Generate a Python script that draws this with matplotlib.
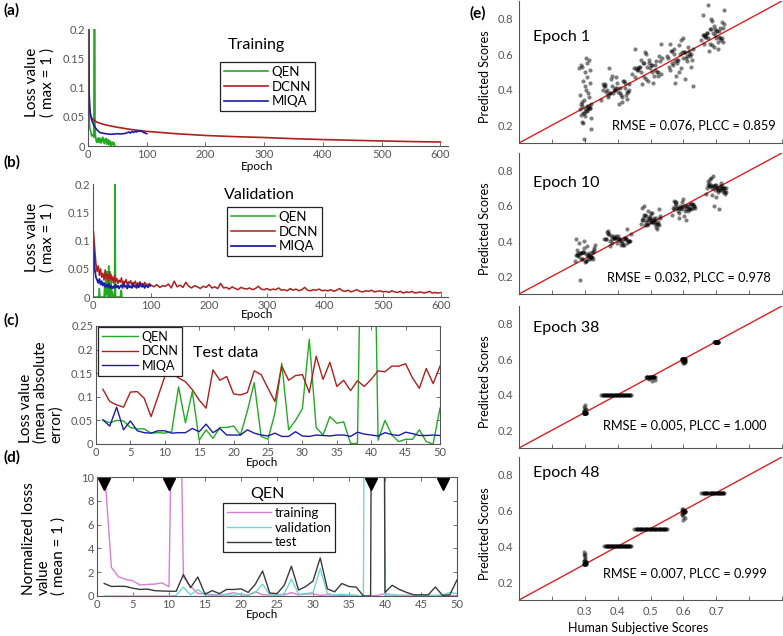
import matplotlib

matplotlib.use("Agg")
import matplotlib.pyplot as plt

plt.rcParams.update({"font.family": ["Lato", "DejaVu Sans"], "font.size": 8})

W, H = 783, 636

# ---------------- (a) training loss ----------------
train_qen = [0.5, 0.046, 0.031, 0.027, 0.024, 0.017, 0.018, 0.019, 0.02, 0.015, 0.5, 0.03, 0.015, 0.008,
             0.006, 0.012, 0.008, 0.014, 0.006, 0.01, 0.013, 0.005, 0.011, 0.008, 0.015, 0.007, 0.012,
             0.004, 0.01, 0.009, 0.013, 0.003, 0.008, 0.011, 0.005, 0.002, 0.009, 0.006, 0.001, 0.003,
             0.007, 0.002, 0.004, 0.006, 0.002, 0.0]
train_dcnn_ep = [1, 2, 3, 4, 5, 7, 10, 15, 20, 30, 40, 50, 75, 100, 150, 200, 250, 300, 350, 400, 450,
                 500, 550, 600]
train_dcnn = [0.115, 0.075, 0.062, 0.055, 0.05, 0.047, 0.044, 0.041, 0.039, 0.036, 0.034, 0.032, 0.028,
              0.025, 0.021, 0.018, 0.016, 0.0145, 0.0125, 0.011, 0.0098, 0.0086, 0.0076, 0.0068]
train_miqa_ep = [1, 2, 3, 4, 5, 6, 8, 10, 12, 15, 18, 20, 25, 30, 35, 40, 45, 50, 55, 60, 65, 70, 72,
                 75, 78, 80, 83, 85, 88, 90, 93, 95, 98, 100]
train_miqa = [0.25, 0.09, 0.065, 0.055, 0.05, 0.045, 0.04, 0.035, 0.032, 0.028, 0.025, 0.023, 0.022,
              0.021, 0.0205, 0.02, 0.0205, 0.021, 0.0205, 0.021, 0.022, 0.024, 0.022, 0.025, 0.023,
              0.025, 0.024, 0.026, 0.025, 0.026, 0.024, 0.023, 0.022, 0.021]

# ---------------- (b) validation loss ----------------
val_qen = [0, 0, 0, 0, 0, 0, 0, 0, 0, 0, 0.015, 0, 0, 0, 0, 0, 0, 0, 0, 0.018, 0, 0.035, 0.005, 0.045,
           0, 0.02, 0.055, 0, 0.03, 0, 0.04, 0, 0.01, 0, 0, 0.005, 0.0, 0.2, 0, 0, 0, 0, 0, 0, 0, 0,
           0, 0.01, 0.012, 0]
val_dcnn_ep = list(range(1, 100, 2)) + list(range(100, 601, 5))
val_dcnn = [0.115, 0.085, 0.06, 0.045, 0.055, 0.038, 0.05, 0.035, 0.042, 0.03, 0.048, 0.032, 0.04, 0.028,
            0.045, 0.03, 0.036, 0.025, 0.038, 0.027, 0.033, 0.024, 0.03, 0.026, 0.034, 0.023, 0.028,
            0.025, 0.031, 0.022, 0.027, 0.024, 0.029, 0.021, 0.026, 0.023, 0.028, 0.02, 0.025, 0.022,
            0.027, 0.021, 0.024, 0.02, 0.026, 0.022, 0.023, 0.019, 0.024, 0.021,
            0.021, 0.018, 0.022, 0.017, 0.02, 0.019, 0.023, 0.016, 0.028, 0.018, 0.021, 0.017, 0.026,
            0.019, 0.016, 0.02, 0.018, 0.015, 0.019, 0.017,
            0.022, 0.016, 0.018, 0.015, 0.024, 0.016, 0.017, 0.014, 0.018, 0.015, 0.013, 0.017, 0.015,
            0.014, 0.016, 0.013, 0.015, 0.019, 0.014, 0.013,
            0.015, 0.012, 0.014, 0.013, 0.016, 0.012, 0.013, 0.011, 0.015, 0.012, 0.014, 0.011, 0.013,
            0.017, 0.012, 0.011, 0.013, 0.012, 0.014, 0.011,
            0.012, 0.011, 0.013, 0.01, 0.012, 0.015, 0.011, 0.01, 0.012, 0.009, 0.011, 0.013, 0.01,
            0.009, 0.011, 0.01, 0.012, 0.009, 0.01, 0.011,
            0.009, 0.01, 0.008, 0.011, 0.009, 0.008, 0.01, 0.007, 0.009, 0.008, 0.01, 0.007, 0.008,
            0.009, 0.007, 0.008, 0.01, 0.007, 0.008, 0.007, 0.008]
val_miqa_ep = list(range(1, 100, 2))
val_miqa = [0.09, 0.05, 0.035, 0.03, 0.025, 0.032, 0.022, 0.028, 0.02, 0.025, 0.018, 0.022, 0.017, 0.024,
            0.016, 0.02, 0.015, 0.019, 0.016, 0.022, 0.017, 0.02, 0.015, 0.019, 0.021, 0.016, 0.024,
            0.018, 0.02, 0.015, 0.022, 0.017, 0.019, 0.016, 0.023, 0.018, 0.02, 0.016, 0.021, 0.017,
            0.024, 0.019, 0.018, 0.022, 0.016, 0.02, 0.019, 0.017, 0.021, 0.02]

# ---------------- (c) test data (MAE) ----------------
test_qen = [0.051, 0.045, 0.05, 0.049, 0.035, 0.032, 0.032, 0.023, 0.024, 0.023, 0.026, 0.121, 0.045,
            0.111, 0.008, 0.03, 0.012, 0.035, 0.035, 0.038, 0.019, 0.07, 0.13, 0.016, 0.01, 0.065, 0.171,
            0.03, 0.05, 0.075, 0.222, 0.035, 0.019, 0.058, 0.044, 0.047, 0.001, 0.001, 0.9, 0.9, 0.008,
            0.05, 0.019, 0.005, 0.01, 0.01, 0.03, 0.005, 0.0, 0.076]
test_dcnn = [0.116, 0.09, 0.083, 0.078, 0.11, 0.111, 0.097, 0.058, 0.1, 0.143, 0.15, 0.14, 0.132, 0.115,
             0.093, 0.076, 0.157, 0.135, 0.143, 0.106, 0.104, 0.109, 0.155, 0.147, 0.118, 0.09, 0.165,
             0.135, 0.145, 0.147, 0.109, 0.186, 0.137, 0.173, 0.122, 0.135, 0.113, 0.134, 0.122, 0.137,
             0.155, 0.153, 0.165, 0.165, 0.17, 0.14, 0.118, 0.16, 0.128, 0.165]
test_miqa = [0.051, 0.038, 0.078, 0.03, 0.049, 0.028, 0.024, 0.023, 0.028, 0.028, 0.023, 0.024, 0.024,
             0.033, 0.026, 0.042, 0.024, 0.033, 0.019, 0.019, 0.019, 0.03, 0.023, 0.019, 0.017, 0.023,
             0.016, 0.016, 0.026, 0.017, 0.016, 0.019, 0.018, 0.017, 0.019, 0.019, 0.016, 0.025, 0.021,
             0.019, 0.017, 0.024, 0.02, 0.018, 0.025, 0.022, 0.018, 0.018, 0.019, 0.018]

# ---------------- (d) QEN normalized losses ----------------
norm_train = [11, 2.4, 1.6, 1.4, 1.26, 0.92, 0.98, 1.0, 1.1, 0.78, 40, 1.6, 0.8, 0.22, 0.15, 0.12, 0.1,
              0.15, 0.28, 0.1, 0.08, 0.36, 0.1, 0.1, 0.08, 0.1, 0.28, 0.1, 0.15, 0.18, 0.05, 0.1, 0.08,
              0.05, 0.06, 0.04, 0.0, 0.0, 0.05, 0.2, 0.1, 0.05, 0.05, 0.06, 0.04, 0.05, 0.04, 0.02, 0.03,
              0.03]
norm_val = [0, 0, 0, 0, 0, 0, 0, 0, 0, 0, 0.05, 0.75, 0.1, 0.55, 0.1, 0.05, 0.05, 0.1, 0.05, 0.2, 0.05,
            0.3, 1.0, 0.1, 0.05, 0.2, 1.4, 0.15, 0.2, 0.3, 2.3, 0.2, 0.1, 0.15, 0.1, 0.05, 0.0, 150, 150,
            0.05, 0.1, 0.05, 0.05, 0.05, 0.05, 0.05, 0.05, 0.1, 0.3, 0.2]
norm_test = [1.05, 0.8, 0.82, 0.8, 0.65, 0.55, 0.58, 0.45, 0.42, 0.4, 0.4, 1.8, 0.7, 1.6, 0.15, 0.45,
             0.2, 0.55, 0.55, 0.6, 0.3, 1.0, 2.1, 0.25, 0.2, 0.9, 2.5, 0.5, 0.8, 1.25, 3.2, 0.6, 0.35,
             1.05, 0.8, 0.75, 0.0, 0.0, 150, 0.3, 0.9, 0.55, 0.3, 0.1, 0.1, 0.1, 0.75, 0.05, 0.1, 1.35]
marked_epochs = [1, 10, 38, 48]

# ---------------- (e) predicted vs human scores ----------------
human_levels = [0.3, 0.4, 0.5, 0.6, 0.7]
jit = [-0.9, 0.3, -0.2, 0.7, -0.5, 0.1, 0.9, -0.7, 0.5, -0.1, 0.6, -0.4, 0.0, 0.8, -0.8, 0.2, -0.3,
       0.4, -0.6, 1.0, -1.0, 0.35, -0.15, 0.65, -0.55, 0.05, 0.85, -0.75, 0.45, -0.05, 0.55, -0.35,
       0.15, 0.75, -0.85, 0.25, -0.25, 0.95, -0.65, -0.45]

e1_pred = [
    [0.29, 0.31, 0.27, 0.30, 0.33, 0.28, 0.32, 0.26, 0.30, 0.29, 0.31, 0.27, 0.25, 0.30, 0.32, 0.28, 0.34,
     0.29, 0.31, 0.24, 0.52, 0.55, 0.50, 0.57, 0.53, 0.58, 0.51, 0.54, 0.38, 0.42, 0.36, 0.45, 0.40,
     0.44, 0.37, 0.47, 0.12, 0.18, 0.22, 0.21],
    [0.40, 0.38, 0.42, 0.41, 0.37, 0.44, 0.39, 0.43, 0.36, 0.40, 0.45, 0.38, 0.41, 0.35, 0.42, 0.39, 0.46,
     0.37, 0.40, 0.43, 0.34, 0.41, 0.38, 0.44, 0.36, 0.47, 0.39, 0.42, 0.33, 0.40, 0.45, 0.38, 0.41,
     0.37, 0.43, 0.32, 0.48, 0.40, 0.39, 0.52],
    [0.52, 0.50, 0.55, 0.48, 0.53, 0.57, 0.49, 0.51, 0.54, 0.46, 0.56, 0.50, 0.53, 0.59, 0.47, 0.52, 0.55,
     0.44, 0.51, 0.58, 0.49, 0.54, 0.61, 0.50, 0.53, 0.45, 0.56, 0.52, 0.48, 0.60, 0.51, 0.43, 0.55,
     0.50, 0.63, 0.54, 0.47, 0.66, 0.52, 0.57],
    [0.58, 0.61, 0.55, 0.60, 0.63, 0.52, 0.57, 0.62, 0.59, 0.50, 0.64, 0.56, 0.60, 0.53, 0.66, 0.58, 0.48,
     0.61, 0.55, 0.63, 0.59, 0.46, 0.57, 0.62, 0.54, 0.68, 0.60, 0.51, 0.58, 0.65, 0.56, 0.44, 0.61,
     0.59, 0.53, 0.69, 0.57, 0.42, 0.62, 0.60],
    [0.71, 0.69, 0.74, 0.68, 0.72, 0.76, 0.67, 0.70, 0.73, 0.65, 0.75, 0.69, 0.72, 0.78, 0.66, 0.71, 0.74,
     0.63, 0.70, 0.77, 0.68, 0.73, 0.80, 0.69, 0.72, 0.64, 0.75, 0.71, 0.67, 0.79, 0.70, 0.62, 0.74,
     0.69, 0.82, 0.73, 0.66, 0.85, 0.71, 0.88],
]
e10_pred = [
    [0.32, 0.30, 0.34, 0.31, 0.33, 0.29, 0.35, 0.32, 0.30, 0.36, 0.31, 0.33, 0.28, 0.34, 0.32, 0.37, 0.30,
     0.33, 0.31, 0.38, 0.29, 0.32, 0.34, 0.31, 0.39, 0.33, 0.30, 0.35, 0.32, 0.40, 0.31, 0.33, 0.29,
     0.34, 0.41, 0.32, 0.30, 0.36, 0.33, 0.18],
    [0.41, 0.40, 0.42, 0.39, 0.43, 0.41, 0.40, 0.44, 0.38, 0.42, 0.41, 0.39, 0.43, 0.40, 0.45, 0.41, 0.42,
     0.38, 0.40, 0.44, 0.41, 0.39, 0.43, 0.42, 0.37, 0.41, 0.40, 0.46, 0.42, 0.39, 0.41, 0.43, 0.40,
     0.47, 0.41, 0.38, 0.42, 0.40, 0.44, 0.41],
    [0.52, 0.51, 0.53, 0.50, 0.54, 0.52, 0.49, 0.55, 0.51, 0.53, 0.48, 0.52, 0.56, 0.50, 0.53, 0.51, 0.57,
     0.52, 0.49, 0.54, 0.50, 0.53, 0.52, 0.47, 0.55, 0.51, 0.58, 0.52, 0.50, 0.54, 0.53, 0.49, 0.56,
     0.51, 0.59, 0.52, 0.50, 0.53, 0.60, 0.51],
    [0.59, 0.60, 0.58, 0.61, 0.59, 0.57, 0.60, 0.62, 0.58, 0.59, 0.61, 0.56, 0.60, 0.59, 0.63, 0.58, 0.60,
     0.57, 0.61, 0.59, 0.55, 0.60, 0.62, 0.58, 0.59, 0.54, 0.61, 0.60, 0.58, 0.64, 0.59, 0.53, 0.60,
     0.61, 0.58, 0.52, 0.59, 0.60, 0.62, 0.57],
    [0.70, 0.69, 0.71, 0.68, 0.72, 0.70, 0.67, 0.71, 0.73, 0.69, 0.70, 0.66, 0.72, 0.70, 0.74, 0.68, 0.71,
     0.69, 0.75, 0.70, 0.67, 0.71, 0.72, 0.69, 0.76, 0.70, 0.68, 0.73, 0.70, 0.65, 0.71, 0.77, 0.69,
     0.70, 0.72, 0.58, 0.60, 0.68, 0.71, 0.70],
]
e38_pred = [
    [0.30] * 14 + [0.31, 0.32, 0.33, 0.34, 0.31, 0.32],
    [0.40] * 40,
    [0.50] * 16 + [0.49, 0.48, 0.495, 0.485],
    [0.60] * 10 + [0.59, 0.58, 0.595, 0.585, 0.59, 0.60, 0.59, 0.58, 0.60, 0.59],
    [0.695] * 20,
]
e48_pred = [
    [0.30] * 10 + [0.31, 0.32, 0.33, 0.31, 0.32, 0.34, 0.35, 0.36, 0.37, 0.31],
    [0.40] * 40,
    [0.50] * 40,
    [0.60, 0.59, 0.61, 0.60, 0.58, 0.59, 0.60, 0.61, 0.59, 0.57, 0.56, 0.55, 0.60, 0.59, 0.58, 0.60],
    [0.70] * 30,
]
# cluster centre / half-spread along the human-score axis (jitter only)
e1_xc, e1_xw = [0.302, 0.393, 0.49, 0.59, 0.69], [0.018, 0.043, 0.045, 0.04, 0.035]
e10_xc, e10_xw = [0.30, 0.40, 0.50, 0.60, 0.70], [0.03, 0.04, 0.03, 0.035, 0.03]
e38_xc, e38_xw = [0.30, 0.395, 0.50, 0.60, 0.70], [0.004, 0.045, 0.015, 0.006, 0.006]
e48_xc, e48_xw = [0.30, 0.40, 0.50, 0.60, 0.69], [0.004, 0.04, 0.05, 0.006, 0.035]
epoch_titles = ["Epoch 1", "Epoch 10", "Epoch 38", "Epoch 48"]
stats = ["RMSE = 0.076, PLCC = 0.859", "RMSE = 0.032, PLCC = 0.978",
         "RMSE = 0.005, PLCC = 1.000", "RMSE = 0.007, PLCC = 0.999"]

GREEN, RED, BLUE = "#22aa22", "#b01e1e", "#1c1ca8"
MAG, CYAN, GRAY = "#d77fd7", "#6fd8cf", "#3a3a3a"
AXC = "#555555"


def px(l, t, r, b):
    return [l / W, 1 - b / H, (r - l) / W, (b - t) / H]


def style(ax, box):
    ax.tick_params(direction="in", length=3, width=0.6, colors=AXC, labelsize=8, pad=2)
    for s in ax.spines.values():
        s.set_color(AXC)
        s.set_linewidth(0.8)
    if box:
        ax.tick_params(top=True, right=True)
    else:
        ax.spines[["top", "right"]].set_visible(False)


def ftext(x, y, s, **kw):
    fig.text(x / W, 1 - y / H, s, **kw)


def legend(ax, handles, labels, x, y, fs=9.5, hl=3.3):
    lg = ax.legend(handles, labels, loc="upper left", bbox_to_anchor=(x / W, 1 - y / H),
                   bbox_transform=fig.transFigure, borderaxespad=0, fancybox=False,
                   handlelength=hl, fontsize=fs, labelspacing=0.2, borderpad=0.3,
                   handletextpad=0.3, framealpha=1)
    lg.get_frame().set_edgecolor("#222222")
    lg.get_frame().set_linewidth(0.9)


fig = plt.figure(figsize=(W / 100, H / 100), dpi=100)

# (a)
ax = fig.add_axes(px(88, 29, 448, 146))
style(ax, False)
la, = ax.plot(range(1, len(train_qen) + 1), train_qen, color=GREEN, lw=1.2)
lb, = ax.plot(train_dcnn_ep, train_dcnn, color=RED, lw=1.2)
lc, = ax.plot(train_miqa_ep, train_miqa, color=BLUE, lw=1.2)
ax.set_xlim(0, 613)
ax.set_ylim(0, 0.2)
ax.set_xticks([0, 100, 200, 300, 400, 500, 600])
ax.set_yticks([0, 0.05, 0.1, 0.15, 0.2], ["0", "0.05", "0.1", "0.15", "0.2"])
ax.tick_params(axis="y", length=0)
legend(ax, [la, lb, lc], ["QEN", "DCNN", "MIQA"], 220, 62)
ftext(256, 45, "Training", ha="center", va="center", fontsize=11.5)
ftext(257, 166, "Epoch", ha="center", va="center", fontsize=8.5)
ftext(40, 82, "Loss value\n( max = 1 )", ha="center", va="center", rotation=90, fontsize=11,
      linespacing=1.1)

# (b)
ax = fig.add_axes(px(93, 184, 448, 297))
style(ax, False)
la, = ax.plot(range(1, len(val_qen) + 1), val_qen, color=GREEN, lw=1.1)
lb, = ax.plot(val_dcnn_ep, val_dcnn, color=RED, lw=1.1)
lc, = ax.plot(val_miqa_ep, val_miqa, color=BLUE, lw=1.3)
ax.set_xlim(0, 612)
ax.set_ylim(0, 0.2)
ax.set_xticks([0, 100, 200, 300, 400, 500, 600])
ax.set_yticks([0, 0.05, 0.1, 0.15, 0.2], ["0", "0.05", "0.1", "0.15", "0.2"])
ax.tick_params(axis="y", length=0)
legend(ax, [la, lb, lc], ["QEN", "DCNN", "MIQA"], 227, 207)
ftext(259, 195, "Validation", ha="center", va="center", fontsize=11.5)
ftext(257, 315, "Epoch", ha="center", va="center", fontsize=8.5)
ftext(40, 237, "Loss value\n( max = 1 )", ha="center", va="center", rotation=90, fontsize=11,
      linespacing=1.1)

# (c)
ax = fig.add_axes(px(96, 326, 440, 444))
style(ax, True)
ep = range(1, 51)
la, = ax.plot(ep, test_qen, color=GREEN, lw=1.0)
lb, = ax.plot(ep, test_dcnn, color=RED, lw=1.0)
lc, = ax.plot(ep, test_miqa, color=BLUE, lw=1.0)
ax.set_xlim(0, 50)
ax.set_ylim(0, 0.25)
ax.set_xticks(range(0, 51, 5))
ax.set_yticks([0, 0.05, 0.1, 0.15, 0.2, 0.25], ["0", "0.05", "0.1", "0.15", "0.2", "0.25"])
legend(ax, [la, lb, lc], ["QEN", "DCNN", "MIQA"], 98, 327, fs=9, hl=2.9)
ftext(226, 353, "Test data", ha="center", va="center", fontsize=11.5)
ftext(262, 463, "Epoch", ha="center", va="center", fontsize=8.5)
ftext(41, 443, "Loss value\n(mean absolute\nerror)", ha="center", va="bottom", rotation=90,
      fontsize=11, linespacing=1.05, multialignment="left")

# (d)
ax = fig.add_axes(px(97, 477, 457, 596))
style(ax, True)
la, = ax.plot(ep, norm_train, color=MAG, lw=1.0)
lb, = ax.plot(ep, norm_val, color=CYAN, lw=1.0)
lc, = ax.plot(ep, norm_test, color=GRAY, lw=1.0)
ax.plot(marked_epochs, [9.45] * len(marked_epochs), "v", color="black", ms=9, clip_on=False)
ax.set_xlim(0, 50)
ax.set_ylim(0, 10)
ax.set_xticks(range(0, 51, 5))
ax.set_yticks(range(0, 11, 2))
legend(ax, [la, lb, lc], ["training", "validation", "test"], 223, 503)
ftext(267, 494, "QEN", ha="center", va="center", fontsize=11.5)
ftext(262, 615, "Epoch", ha="center", va="center", fontsize=8.5)
ftext(44, 595, "Normalized losss\nvalue\n( mean = 1 )", ha="center", va="bottom", rotation=90,
      fontsize=11, linespacing=1.05, multialignment="left")

# (e)
e_boxes = [(1, 143), (153, 294), (306, 448), (457, 600)]
e_preds = [e1_pred, e10_pred, e38_pred, e48_pred]
e_xc = [e1_xc, e10_xc, e38_xc, e48_xc]
e_xw = [e1_xw, e10_xw, e38_xw, e48_xw]
title_y = [0.70, 0.73, 0.775, 0.81]
stat_pos = [(0.882, 0.198), (0.865, 0.198), (0.852, 0.227), (0.855, 0.249)]
for k in range(4):
    t, b = e_boxes[k]
    ax = fig.add_axes(px(519, t, 782, b))
    style(ax, False)
    ax.plot([0.1, 0.9], [0.1, 0.9], color="#e02020", lw=1.0, zorder=1)
    for c in range(len(human_levels)):
        ys = e_preds[k][c]
        xs = [e_xc[k][c] + e_xw[k][c] * j for j in jit[:len(ys)]]
        ax.scatter(xs, ys, s=9, color="black", alpha=0.5, linewidths=0, zorder=2)
    ax.set_xlim(0.1, 0.9)
    ax.set_ylim(0.1, 0.9)
    ax.set_xticks([0.2, 0.3, 0.4, 0.5, 0.6, 0.7, 0.8, 0.9])
    if k == 3:
        ax.set_xticklabels(["", "0.3", "0.4", "0.5", "0.6", "0.7", "", ""])
        ax.tick_params(axis="x", pad=4)
    else:
        ax.set_xticklabels([])
    ax.set_yticks([0.2, 0.4, 0.6, 0.8], ["0.2", "0.4", "0.6", "0.8"])
    ax.tick_params(axis="y", length=0, pad=4)
    ax.text(0.142, title_y[k], epoch_titles[k], ha="left", va="center", fontsize=11.5)
    ax.text(stat_pos[k][0], stat_pos[k][1], stats[k], ha="right", va="center", fontsize=9.2)
    ftext(485, (t + b) / 2 + 5, "Predicted Scores", ha="center", va="center", rotation=90,
          fontsize=9)
ftext(638, 628, "Human Subjective Scores", ha="center", va="center", fontsize=9)

# panel letters
for s, x, y in [("(a)", 3, 10), ("(b)", 3, 162), ("(c)", 3, 320), ("(d)", 3, 457), ("(e)", 470, 13)]:
    ftext(x, y, s, ha="left", va="center", fontsize=11, fontweight="bold")

fig.savefig("out.png", dpi=100)
